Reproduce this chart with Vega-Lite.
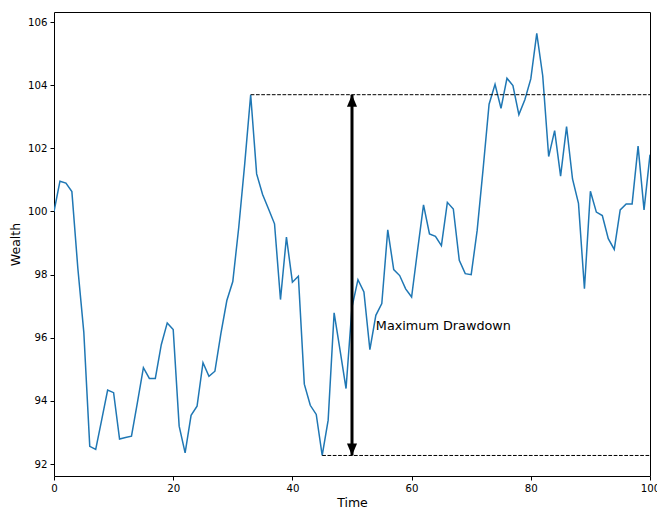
{
  "$schema": "https://vega.github.io/schema/vega-lite/v6.json",
  "width": 596,
  "height": 464,
  "autosize": {"type": "none"},
  "padding": {"left": 54, "top": 12, "right": 7, "bottom": 34},
  "background": "white",
  "config": {
    "font": "DejaVu Sans",
    "view": {"stroke": "black", "strokeWidth": 1},
    "axis": {
      "domain": false,
      "grid": false,
      "ticks": true,
      "tickColor": "black",
      "tickSize": 4,
      "tickWidth": 1,
      "labelColor": "black",
      "labelFontSize": 10.2,
      "labelPadding": 3,
      "labelFlush": false,
      "titleFontSize": 12.5,
      "titleFontWeight": "normal",
      "titleColor": "black"
    }
  },
  "datasets": {
    "wealth": [
      {"t": 0, "w": 100.0}, {"t": 1, "w": 100.96}, {"t": 2, "w": 100.9}, {"t": 3, "w": 100.63},
      {"t": 4, "w": 98.2}, {"t": 5, "w": 96.18}, {"t": 6, "w": 92.56}, {"t": 7, "w": 92.46},
      {"t": 8, "w": 93.4}, {"t": 9, "w": 94.34}, {"t": 10, "w": 94.26}, {"t": 11, "w": 92.79},
      {"t": 12, "w": 92.84}, {"t": 13, "w": 92.88}, {"t": 14, "w": 93.95}, {"t": 15, "w": 95.05},
      {"t": 16, "w": 94.71}, {"t": 17, "w": 94.71}, {"t": 18, "w": 95.78}, {"t": 19, "w": 96.47},
      {"t": 20, "w": 96.26}, {"t": 21, "w": 93.2}, {"t": 22, "w": 92.35}, {"t": 23, "w": 93.54},
      {"t": 24, "w": 93.83}, {"t": 25, "w": 95.21}, {"t": 26, "w": 94.78}, {"t": 27, "w": 94.94},
      {"t": 28, "w": 96.13}, {"t": 29, "w": 97.18}, {"t": 30, "w": 97.78}, {"t": 31, "w": 99.5},
      {"t": 32, "w": 101.51}, {"t": 33, "w": 103.7}, {"t": 34, "w": 101.19}, {"t": 35, "w": 100.54},
      {"t": 36, "w": 100.08}, {"t": 37, "w": 99.61}, {"t": 38, "w": 97.21}, {"t": 39, "w": 99.19},
      {"t": 40, "w": 97.76}, {"t": 41, "w": 97.95}, {"t": 42, "w": 94.53}, {"t": 43, "w": 93.86},
      {"t": 44, "w": 93.57}, {"t": 45, "w": 92.27}, {"t": 46, "w": 93.39}, {"t": 47, "w": 96.79},
      {"t": 48, "w": 95.6}, {"t": 49, "w": 94.39}, {"t": 50, "w": 96.97}, {"t": 51, "w": 97.84},
      {"t": 52, "w": 97.45}, {"t": 53, "w": 95.62}, {"t": 54, "w": 96.71}, {"t": 55, "w": 97.08},
      {"t": 56, "w": 99.42}, {"t": 57, "w": 98.16}, {"t": 58, "w": 97.97}, {"t": 59, "w": 97.55},
      {"t": 60, "w": 97.29}, {"t": 61, "w": 98.77}, {"t": 62, "w": 100.21}, {"t": 63, "w": 99.29},
      {"t": 64, "w": 99.21}, {"t": 65, "w": 98.92}, {"t": 66, "w": 100.29}, {"t": 67, "w": 100.08},
      {"t": 68, "w": 98.45}, {"t": 69, "w": 98.03}, {"t": 70, "w": 98.0}, {"t": 71, "w": 99.4},
      {"t": 72, "w": 101.35}, {"t": 73, "w": 103.4}, {"t": 74, "w": 104.03}, {"t": 75, "w": 103.27},
      {"t": 76, "w": 104.22}, {"t": 77, "w": 103.99}, {"t": 78, "w": 103.07}, {"t": 79, "w": 103.54},
      {"t": 80, "w": 104.2}, {"t": 81, "w": 105.64}, {"t": 82, "w": 104.3}, {"t": 83, "w": 101.74},
      {"t": 84, "w": 102.56}, {"t": 85, "w": 101.12}, {"t": 86, "w": 102.69}, {"t": 87, "w": 101.03},
      {"t": 88, "w": 100.26}, {"t": 89, "w": 97.55}, {"t": 90, "w": 100.64}, {"t": 91, "w": 99.98},
      {"t": 92, "w": 99.87}, {"t": 93, "w": 99.14}, {"t": 94, "w": 98.8}, {"t": 95, "w": 100.05},
      {"t": 96, "w": 100.24}, {"t": 97, "w": 100.24}, {"t": 98, "w": 102.07}, {"t": 99, "w": 100.05},
      {"t": 100, "w": 101.8}
    ],
    "levels": [
      {"x": 33, "x2": 100, "y": 103.7},
      {"x": 45, "x2": 100, "y": 92.27}
    ],
    "arrow": [
      {"x": 50, "y": 103.7, "y2": 92.27}
    ],
    "heads": [
      {"x": 50, "y": 103.7, "end": "top"},
      {"x": 50, "y": 92.27, "end": "bottom"}
    ],
    "label": [
      {"x": 54, "y": 96.37, "text": "Maximum Drawdown"}
    ]
  },
  "layer": [
    {
      "data": {"name": "wealth"},
      "mark": {"type": "line", "color": "#1f77b4", "strokeWidth": 1.5, "clip": true},
      "encoding": {
        "x": {"field": "t", "type": "quantitative", "title": "Time",
              "scale": {"domain": [0, 100], "nice": false, "zero": false},
              "axis": {"values": [0, 20, 40, 60, 80, 100], "titlePadding": 3}},
        "y": {"field": "w", "type": "quantitative", "title": "Wealth",
              "scale": {"domain": [91.62, 106.32], "nice": false, "zero": false},
              "axis": {"values": [92, 94, 96, 98, 100, 102, 104, 106], "titlePadding": 5}}
      }
    },
    {
      "data": {"name": "levels"},
      "mark": {"type": "rule", "color": "black", "strokeWidth": 1, "strokeDash": [3.7, 1.6]},
      "encoding": {
        "x": {"field": "x", "type": "quantitative"},
        "x2": {"field": "x2"},
        "y": {"field": "y", "type": "quantitative"}
      }
    },
    {
      "data": {"name": "arrow"},
      "mark": {"type": "rule", "color": "black", "strokeWidth": 3},
      "encoding": {
        "x": {"field": "x", "type": "quantitative"},
        "y": {"field": "y", "type": "quantitative"},
        "y2": {"field": "y2"}
      }
    },
    {
      "data": {"name": "heads"},
      "mark": {"type": "point", "filled": true, "color": "black", "opacity": 1, "size": 576, "strokeWidth": 0},
      "encoding": {
        "x": {"field": "x", "type": "quantitative"},
        "y": {"field": "y", "type": "quantitative"},
        "shape": {"field": "end", "type": "nominal", "legend": null,
                  "scale": {"domain": ["top", "bottom"], "range": ["M0,0L-0.42,1L0.42,1Z", "M0,0L-0.42,-1L0.42,-1Z"]}}
      }
    },
    {
      "data": {"name": "label"},
      "mark": {"type": "text", "align": "left", "baseline": "middle", "fontSize": 12.8, "color": "black", "font": "DejaVu Sans"},
      "encoding": {
        "x": {"field": "x", "type": "quantitative"},
        "y": {"field": "y", "type": "quantitative"},
        "text": {"field": "text"}
      }
    }
  ]
}
